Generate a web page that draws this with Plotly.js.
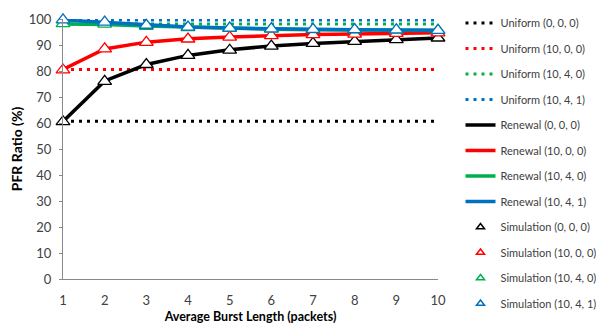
<!DOCTYPE html>
<html><head><meta charset="utf-8">
<script src="https://cdn.plot.ly/plotly-3.0.1.min.js"></script>
<style>html,body{margin:0;padding:0;background:#fff}#c{width:596px;height:331px}</style>
</head><body><div id="c"></div>
<script>
const burst = [1,2,3,4,5,6,7,8,9,10];
const uniform000 = [60.7,60.7,60.7,60.7,60.7,60.7,60.7,60.7,60.7,60.7];
const uniform1000 = [80.6,80.6,80.6,80.6,80.6,80.6,80.6,80.6,80.6,80.6];
const uniform1040 = [98.1,98.1,98.1,98.1,98.1,98.1,98.1,98.1,98.1,98.1];
const uniform1041 = [99.6,99.6,99.6,99.6,99.6,99.6,99.6,99.6,99.6,99.6];
const renewal000 = [60.6,76.2,82.5,86.0,88.2,89.6,90.6,91.4,92.1,92.7];
const renewal1000 = [80.6,88.5,91.1,92.4,93.1,93.6,94.0,94.2,94.5,94.7];
const renewal1040 = [98.1,97.9,97.3,96.8,96.4,96.1,95.9,95.8,95.7,95.6];
const renewal1041 = [99.6,98.7,97.6,96.9,96.5,96.2,96.0,95.9,95.8,95.7];
const sim000 = [60.5,76.0,82.5,86.0,88.0,89.6,90.6,91.4,92.1,92.7];
const sim1000 = [80.4,88.5,91.0,92.3,93.0,93.6,94.0,94.2,94.5,94.7];
const sim1040 = [98.2,98.0,97.2,96.7,96.4,96.1,95.9,95.8,95.7,95.6];
const sim1041 = [99.7,98.8,97.6,96.9,96.5,96.2,96.0,95.9,95.8,95.6];
const names = ['(0, 0, 0)','(10, 0, 0)','(10, 4, 0)','(10, 4, 1)'];
const colors = ['#000000','#ff0000','#00b050','#0070c0'];
const uni = [uniform000,uniform1000,uniform1040,uniform1041];
const ren = [renewal000,renewal1000,renewal1040,renewal1041];
const sim = [sim000,sim1000,sim1040,sim1041];

const traces = [];
let g = 0;
uni.forEach((y,i)=>traces.push({x:burst,y:y,mode:'lines',name:'Uniform '+names[i],legendgroup:'g'+(g++),
  line:{color:colors[i],width:3,dash:'3px,5px'},cliponaxis:false}));
ren.forEach((y,i)=>traces.push({x:burst,y:y,mode:'lines',name:'Renewal '+names[i],legendgroup:'g'+(g++),
  line:{color:colors[i],width:3.5},cliponaxis:false}));
sim.forEach((y,i)=>traces.push({x:burst,y:y,mode:'markers',name:'Simulation '+names[i],showlegend:false,
  marker:{symbol:'triangle-up',size:12,color:'#ffffff',line:{color:colors[i],width:1.3}},cliponaxis:false}));
// legend proxies with small markers (as in the original legend)
sim.forEach((y,i)=>traces.push({x:[null],y:[null],mode:'markers',name:'Simulation '+names[i],legendgroup:'g'+(g++),
  marker:{symbol:'triangle-up',size:7,color:'#ffffff',line:{color:colors[i],width:1.5}}}));

const font = 'Lato, "Open Sans", sans-serif';
const layout = {
  width:596,height:331,
  margin:{l:63,r:158,t:19,b:52,autoexpand:false},
  paper_bgcolor:'#fff',plot_bgcolor:'#fff',
  showlegend:true,
  font:{family:font,color:'#404040',size:12},
  xaxis:{range:[1,10],tickmode:'array',tickvals:burst,ticks:'',showgrid:false,zeroline:false,
    showline:true,linecolor:'#898989',linewidth:1,tickfont:{size:13,color:'#404040'},ticklabelstandoff:9,
    title:{text:'<b>Average Burst Length (packets)</b>',font:{size:12.5,color:'#000'},standoff:5}},
  yaxis:{range:[0,100],dtick:10,ticks:'outside',ticklen:3,tickcolor:'#898989',showgrid:false,zeroline:false,
    showline:true,linecolor:'#898989',linewidth:1,tickfont:{size:13,color:'#404040'},ticklabelstandoff:5,
    title:{text:'<b>PFR Ratio (%)</b>',font:{size:14,color:'#000'},standoff:2}},
  legend:{x:1.06,xanchor:'left',y:1.04,yanchor:'top',tracegroupgap:6.5,maxheight:1,font:{size:11,color:'#404040'},
    bgcolor:'rgba(0,0,0,0)'}
};
Plotly.newPlot('c',traces,layout,{staticPlot:true});
</script></body></html>
